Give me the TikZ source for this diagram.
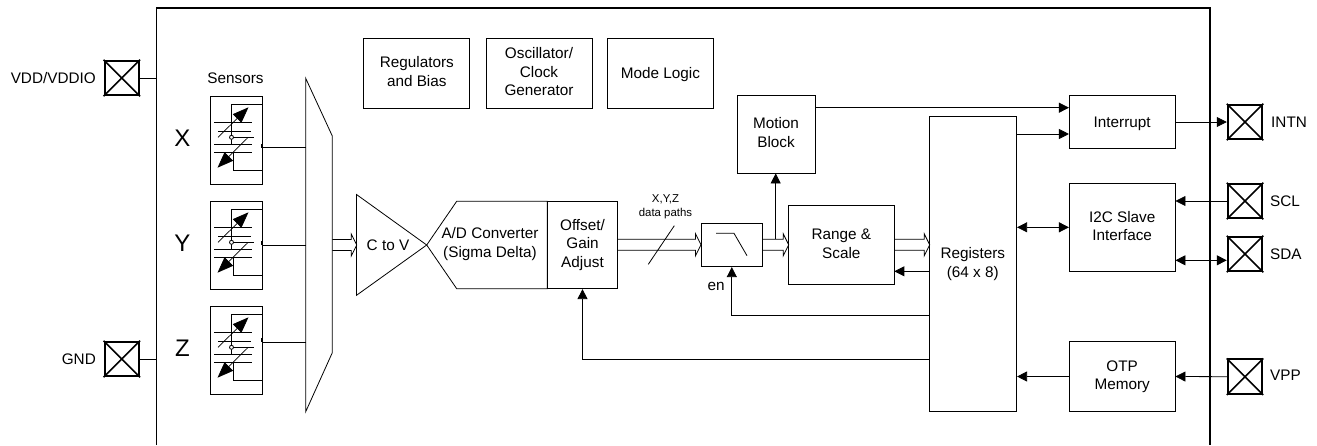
\documentclass[tikz,border=0pt]{standalone}
\usepackage{fontspec}
\setmainfont{Liberation Sans}
\usetikzlibrary{arrows.meta,calc}
% keeps text at one height in its box, whatever the letters
\newcommand{\labelstrut}{\rule[-2.6pt]{0pt}{16.6pt}}
\tikzset{
  blockbox/.style={draw,line width=.8pt,align=center,inner sep=0pt,font=\fontsize{15.3}{18.5}\selectfont,
    execute at begin node=\labelstrut,execute at end node=\labelstrut},
  padbox/.style={draw,line width=2pt,minimum size=34.5pt,inner sep=0pt},
  padlabel/.style={inner sep=0pt,font=\fontsize{15.3}{18}\selectfont,
    execute at begin node=\labelstrut},
  axislabel/.style={inner sep=0pt,font=\fontsize{24}{28}\selectfont},
  wire/.style={line width=.8pt},
  sigarrow/.style={line width=.8pt,-{Triangle[length=10pt,width=10pt]}},
  bothways/.style={line width=.8pt,{Triangle[length=10pt,width=10pt]}-{Triangle[length=10pt,width=10pt]}},
  plate/.style={line width=.8pt},
  adjust/.style={line width=.7pt,-{Triangle[length=16pt,width=12pt]}},
}
% pad with a cross in it
\newcommand{\padcross}[3]{%
  \node[padbox] (#1) at (#2,#3) {};
  \draw[line width=1.6pt] (#1.north west) -- (#1.south east);
  \draw[line width=1.6pt] (#1.north east) -- (#1.south west);
}
% hollow bus arrow, from coordinate to coordinate
\newcommand{\busarrow}[2]{%
  \draw[wire,line join=miter]
    ($(#1)+(0,-5.5)$) -- ($(#2)+(-5.5,-5.5)$) -- ($(#2)+(-5.5,-11)$) -- (#2)
    -- ($(#2)+(-5.5,11)$) -- ($(#2)+(-5.5,5.5)$) -- ($(#1)+(0,5.5)$);
}
% one sensor cell, #1 name, #2 left, #3 top, #4 output offset
\newcommand{\sensorcell}[4]{%
  \node[blockbox,anchor=north west,minimum width=52.5pt,minimum height=87.5pt] (#1) at (#2,#3) {};
  \begin{scope}[shift={(#1.north west)}]
    \draw[wire] (52.5,8.3) -- (22,8.3) -- (22,48);
    \draw[plate] (4.5,26) -- (42.5,26);
    \draw[plate] (8.5,35) -- (41,35);
    \draw[plate] (4.5,48) -- (42.5,48);
    \draw[plate] (4.5,56.7) -- (42.5,56.7);
    \draw[wire] (22,41.3) -- (44.5,41.3);
    \draw[wire,fill=white] (22,41.3) circle (2pt);
    \draw[wire] (24,56.7) -- (24,74) -- (52.5,74);
    \draw[adjust] (8.5,41.3) -- (39,11.3);
    \draw[adjust] (38,42) -- (8,71.7);
    \coordinate (#1out) at (52.5,#4);
  \end{scope}
  \draw[line width=1.6pt] ($(#1out)+(0,-4)$) -- (#1out);
}
\begin{document}
\begin{tikzpicture}[x=1pt,y=-1pt]
  \useasboundingbox (0,0) rectangle (1317,445);
  % Outer chip outline
  \draw[line width=1.6pt] (156.5,445) -- (156.5,8) -- (1210,8) -- (1210,445);
  % Pads
  \padcross{pvdd}{121.8}{78}
  \padcross{pgnd}{121.8}{359}
  \padcross{pintn}{1245}{122}
  \padcross{pscl}{1245}{201}
  \padcross{psda}{1245}{254}
  \padcross{pvpp}{1245}{376.7}
  \node[padlabel,anchor=east] (lvdd) at (96,78) {VDD/VDDIO};
  \node[padlabel,anchor=east] (lgnd) at (96,359) {GND};
  \node[padlabel,anchor=west] (lintn) at (1271,122) {INTN};
  \node[padlabel,anchor=west] (lscl) at (1270,201) {SCL};
  \node[padlabel,anchor=west] (lsda) at (1270,254) {SDA};
  \node[padlabel,anchor=west] (lvpp) at (1270,375) {VPP};
  % Supply stubs
  \coordinate (edgel) at (156.5,0);
  \draw[wire] (pvdd.east) -- (pvdd.east -| edgel);
  \draw[wire] (pgnd.east) -- (pgnd.east -| edgel);
  % Top row blocks
  \node[blockbox,minimum width=106pt,minimum height=70pt] (regbias) at (416.8,73) {Regulators\\and Bias};
  \node[blockbox,minimum width=106pt,minimum height=70pt] (osc) at (539,73) {Oscillator/\\Clock\\Generator};
  \node[blockbox,minimum width=106pt,minimum height=70pt] (mode) at (660.5,73) {Mode Logic};
  % Sensors
  \node[padlabel] (lsens) at (235.5,78) {Sensors};
  \sensorcell{sensx}{209.5}{96}{51.7}
  \sensorcell{sensy}{209.5}{201}{44}
  \sensorcell{sensz}{209.5}{306}{36}
  \node[axislabel] (lx) at (182.5,138.7) {X};
  \node[axislabel] (ly) at (182.5,243.6) {Y};
  \node[axislabel] (lz) at (182.5,348.6) {Z};
  % Mux
  \coordinate (muxa) at (305.7,78.3);
  \coordinate (muxb) at (332.3,136);
  \coordinate (muxc) at (332.3,352.7);
  \coordinate (muxd) at (305.7,411.7);
  \draw[wire] (muxa) -- (muxb) -- (muxc) -- (muxd) -- cycle;
  \draw[wire] (sensxout) -- (sensxout -| muxa);
  \draw[wire] (sensyout) -- (sensyout -| muxa);
  \draw[wire] (senszout) -- (senszout -| muxa);
  % C to V and converter
  \coordinate (ctova) at (356.5,194.5);
  \coordinate (ctovb) at (356.5,295.3);
  \coordinate (ctovtip) at (426.7,245);
  \draw[wire] (ctova) -- (ctovtip) -- (ctovb) -- cycle;
  \node[blockbox,draw=none] (lctov) at (388,245) {C to V};
  \coordinate (adca) at (456.7,201.3);
  \coordinate (adcb) at (456.7,288.7);
  \draw[wire] (ctovtip) -- (adca) -- (547.3,201.3) -- (547.3,288.7) -- (adcb) -- cycle;
  \node[blockbox,draw=none] (ladc) at (490,244) {A/D Converter\\(Sigma Delta)};
  \node[blockbox,minimum width=70.4pt,minimum height=87.4pt] (gain) at (582.5,245) {Offset/\\Gain\\Adjust};
  % Filter
  \node[blockbox,minimum width=61.7pt,minimum height=43.7pt] (filt) at (731.8,244.8) {};
  \draw[wire] (716,233.3) -- (734,233.3) -- (747,255.7);
  \node[blockbox,draw=none] (len) at (716,285) {en};
  % Range, motion, registers
  \node[blockbox,minimum width=105.3pt,minimum height=79pt] (range) at (841.3,244.8) {Range \&\\Scale};
  \node[blockbox,minimum width=78pt,minimum height=78pt] (motion) at (776,134) {Motion\\Block};
  \node[blockbox,minimum width=87.7pt,minimum height=294.6pt] (regs) at (972.8,264) {Registers\\(64 x 8)};
  % Right hand blocks
  \node[blockbox,minimum width=105.7pt,minimum height=52.6pt] (intr) at (1122.2,122) {Interrupt};
  \node[blockbox,minimum width=105.7pt,minimum height=88pt] (i2c) at (1122.2,227.3) {I2C Slave\\Interface};
  \node[blockbox,minimum width=105.7pt,minimum height=69.6pt] (otp) at (1122.2,376.5) {OTP\\Memory};
  % Bus arrows
  \coordinate (ctovin) at (356.7,245);
  \coordinate (muxout) at (332.3,245);
  \busarrow{muxout}{ctovin}
  \coordinate (gainout) at (617.7,244.8);
  \coordinate (filtin) at (701,244.8);
  \busarrow{gainout}{filtin}
  \coordinate (filtout) at (762.7,244.8);
  \coordinate (rangein) at (788.7,244.8);
  \busarrow{filtout}{rangein}
  \coordinate (rangeout) at (894,244.8);
  \coordinate (regsin) at (929.7,244.8);
  \busarrow{rangeout}{regsin}
  % Data path slash and its label
  \coordinate (slasha) at (648.3,264.3);
  \coordinate (slashb) at (674.3,225.7);
  \draw[wire] (slasha) -- (slashb);
  \node[align=center,inner sep=0pt,font=\fontsize{11.4}{14}\selectfont] (lpaths) at (665.5,207) {X,Y,Z\\data paths};
  % Control lines
  \coordinate (tapm) at (775.7,239.3);
  \draw[sigarrow] (tapm) -- (tapm |- motion.south);
  \coordinate (backr) at (0,271.3);
  \draw[sigarrow] (backr -| regs.west) -- (backr -| range.east);
  \coordinate (backf) at (0,315);
  \draw[sigarrow] (backf -| regs.west) -| (filt.south);
  \coordinate (backg) at (0,359);
  \draw[sigarrow] (backg -| regs.west) -| (gain.south);
  \coordinate (mtop) at (0,107.7);
  \draw[sigarrow] (mtop -| motion.east) -- (mtop -| intr.west);
  \coordinate (rtop) at (0,134);
  \draw[sigarrow] (rtop -| regs.east) -- (rtop -| intr.west);
  \draw[bothways] (regs.east |- i2c.west) -- (i2c.west);
  \draw[sigarrow] (otp.west) -- (otp.west -| regs.east);
  % Pad connections
  \draw[sigarrow] (intr.east) -- (pintn.west);
  \draw[sigarrow] (pscl.west) -- (pscl.west -| i2c.east);
  \coordinate (sdaline) at (0,260.3);
  \draw[bothways] (sdaline -| i2c.east) -- (sdaline -| psda.west);
  \draw[sigarrow] (pvpp.west) -- (otp.east);
\end{tikzpicture}
\end{document}
